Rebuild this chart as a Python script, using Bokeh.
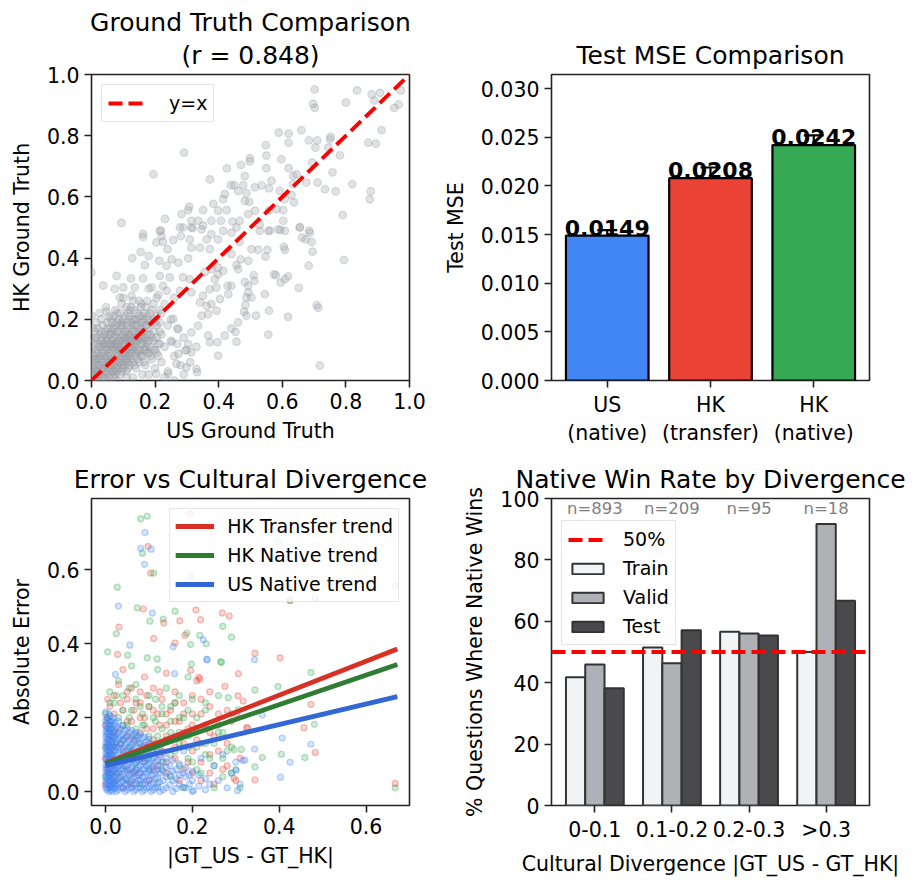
from bokeh.plotting import figure
from bokeh.layouts import gridplot
from bokeh.models import ColumnDataSource, FixedTicker, PrintfTickFormatter, Whisker, TeeHead, Title
from bokeh.core.properties import value
from bokeh.embed import file_html
from bokeh.resources import INLINE

FONT = "DejaVu Sans"

# --- panel 1: ground truth, US vs HK ---
gt_pairs = [
    (0.702, 0.951), (0.835, 0.948), (0.881, 0.935), (0.907, 0.940), (0.889, 0.915), (0.973, 0.948),
    (0.952, 0.891), (0.966, 0.902), (0.697, 0.904), (0.702, 0.891), (0.800, 0.908), (0.912, 0.818),
    (0.870, 0.777), (0.894, 0.774), (0.660, 0.818), (0.589, 0.810), (0.620, 0.807), (0.620, 0.777),
    (0.684, 0.785), (0.710, 0.785), (0.752, 0.796), (0.750, 0.788), (0.704, 0.761), (0.745, 0.761),
    (0.548, 0.769), (0.550, 0.735), (0.781, 0.736), (0.291, 0.745), (0.498, 0.726), (0.498, 0.716),
    (0.470, 0.705), (0.597, 0.723), (0.550, 0.694), (0.620, 0.694), (0.694, 0.712), (0.758, 0.680),
    (0.645, 0.674), (0.634, 0.669), (0.426, 0.693), (0.482, 0.668), (0.195, 0.674), (0.372, 0.657),
    (0.566, 0.653), (0.676, 0.647), (0.711, 0.647), (0.438, 0.638), (0.449, 0.638), (0.477, 0.638),
    (0.514, 0.631), (0.535, 0.638), (0.558, 0.628), (0.634, 0.642), (0.734, 0.625), (0.768, 0.618),
    (0.820, 0.642), (0.878, 0.618), (0.875, 0.592), (0.461, 0.620), (0.487, 0.612), (0.419, 0.609),
    (0.414, 0.593), (0.482, 0.587), (0.592, 0.620), (0.629, 0.606), (0.608, 0.593), (0.637, 0.582),
    (0.496, 0.584), (0.383, 0.577), (0.307, 0.568), (0.304, 0.557), (0.351, 0.557), (0.398, 0.555),
    (0.425, 0.557), (0.582, 0.560), (0.603, 0.557), (0.558, 0.555), (0.790, 0.541), (0.514, 0.555),
    (0.493, 0.544), (0.094, 0.515), (0.231, 0.528), (0.283, 0.544), (0.314, 0.522), (0.335, 0.522),
    (0.351, 0.506), (0.377, 0.522), (0.407, 0.522), (0.443, 0.519), (0.466, 0.522), (0.529, 0.509),
    (0.561, 0.490), (0.603, 0.522), (0.594, 0.492), (0.655, 0.501), (0.684, 0.490), (0.218, 0.490),
    (0.278, 0.500), (0.318, 0.498), (0.162, 0.479),
    (0.162, 0.469), (0.215, 0.489), (0.220, 0.472), (0.204, 0.451), (0.225, 0.453), (0.239, 0.429),
    (0.257, 0.459), (0.281, 0.472), (0.309, 0.461), (0.288, 0.500), (0.314, 0.500), (0.346, 0.494),
    (0.362, 0.461), (0.377, 0.478), (0.398, 0.461), (0.414, 0.489), (0.314, 0.434), (0.341, 0.434),
    (0.372, 0.429), (0.155, 0.420), (0.180, 0.407), (0.128, 0.400), (0.213, 0.391), (0.252, 0.396),
    (0.273, 0.385), (0.304, 0.399), (0.236, 0.375), (0.168, 0.377), (0.440, 0.483), (0.456, 0.500),
    (0.466, 0.453), (0.440, 0.413), (0.529, 0.489), (0.556, 0.489), (0.587, 0.494), (0.608, 0.489),
    (0.655, 0.500), (0.687, 0.483), (0.662, 0.467), (0.673, 0.461), (0.692, 0.453), (0.605, 0.437),
    (0.608, 0.427), (0.695, 0.421), (0.503, 0.429), (0.524, 0.427), (0.553, 0.427), (0.547, 0.405),
    (0.493, 0.391), (0.469, 0.396), (0.794, 0.394), (0.683, 0.375), (0.456, 0.377), (0.461, 0.364),
    (0.398, 0.369), (0.414, 0.358), (0.510, 0.344), (0.512, 0.326), (0.482, 0.322), (0.574, 0.347),
    (0.580, 0.344), (0.618, 0.340), (0.608, 0.331), (0.595, 0.320), (0.652, 0.303), (0.428, 0.309),
    (0.440, 0.309), (0.430, 0.282), (0.493, 0.309), (0.493, 0.288), (0.503, 0.271), (0.487, 0.271),
    (0.484, 0.247), (0.480, 0.225), (0.487, 0.212), (0.517, 0.212), (0.545, 0.282), (0.558, 0.228),
    (0.708, 0.246), (0.713, 0.238), (0.618, 0.208), (0.556, 0.150), (0.718, 0.049), (0.461, 0.190),
    (0.440, 0.170), (0.453, 0.159), (0.456, 0.127), (0.419, 0.147), (0.393, 0.228), (0.367, 0.217),
    (0.346, 0.212), (0.362, 0.244), (0.377, 0.250), (0.404, 0.266), (0.341, 0.255), (0.351, 0.277),
    (0.314, 0.288), (0.372, 0.298), (0.393, 0.304), (0.388, 0.331), (0.398, 0.347), (0.377, 0.364),
    (0.356, 0.353), (0.335, 0.179), (0.314, 0.157), (0.367, 0.147), (0.372, 0.125), (0.396, 0.125),
    (0.398, 0.081), (0.304, 0.119), (0.294, 0.098), (0.314, 0.092), (0.273, 0.087), (0.267, 0.054),
    (0.299, 0.043), (0.330, 0.038), (0.332, 0.027), (0.241, 0.022), (0.204, 0.022), (0.252, 0.125),
    (0.273, 0.168), (0.257, 0.201), (0.037, 0.310), (0.047, 0.225), (0.000, 0.353), (0.000, 0.212),
    (0.079, 0.342), (0.073, 0.299), (0.100, 0.304), (0.124, 0.334), (0.162, 0.334), (0.215, 0.342),
    (0.246, 0.337), (0.136, 0.304), (0.189, 0.304), (0.225, 0.309), (0.236, 0.293), (0.288, 0.337),
    (0.309, 0.331), (0.278, 0.293), (0.089, 0.271), (0.126, 0.277), (0.157, 0.250),
    (0.01, 0.00), (0.02, 0.01), (0.03, 0.02), (0.01, 0.03), (0.04, 0.01), (0.05, 0.03), (0.02, 0.05),
    (0.06, 0.02), (0.07, 0.05), (0.03, 0.07), (0.08, 0.03), (0.05, 0.08), (0.09, 0.06), (0.06, 0.10),
    (0.10, 0.04), (0.11, 0.08), (0.07, 0.12), (0.12, 0.10), (0.08, 0.14), (0.13, 0.06), (0.04, 0.11),
    (0.09, 0.10), (0.10, 0.13), (0.14, 0.12), (0.11, 0.16), (0.15, 0.09), (0.12, 0.14), (0.13, 0.18),
    (0.16, 0.14), (0.14, 0.20), (0.17, 0.11), (0.18, 0.17), (0.15, 0.16), (0.16, 0.21), (0.19, 0.14),
    (0.20, 0.19), (0.17, 0.24), (0.21, 0.12), (0.22, 0.22), (0.19, 0.23), (0.05, 0.14), (0.06, 0.17),
    (0.08, 0.19), (0.09, 0.22), (0.10, 0.18), (0.11, 0.24), (0.12, 0.21), (0.13, 0.26), (0.07, 0.21),
    (0.03, 0.13), (0.02, 0.09), (0.01, 0.07), (0.00, 0.05), (0.00, 0.02), (0.04, 0.04), (0.06, 0.06),
    (0.08, 0.08), (0.10, 0.10), (0.12, 0.12), (0.14, 0.14), (0.07, 0.01), (0.09, 0.02), (0.11, 0.03),
    (0.12, 0.05), (0.14, 0.04), (0.15, 0.06), (0.16, 0.08), (0.17, 0.05), (0.18, 0.09), (0.19, 0.07),
    (0.20, 0.10), (0.21, 0.08), (0.22, 0.15), (0.23, 0.11), (0.24, 0.18), (0.25, 0.13), (0.18, 0.02),
    (0.20, 0.04), (0.22, 0.06), (0.24, 0.03), (0.26, 0.08), (0.27, 0.12), (0.28, 0.05), (0.25, 0.20),
    (0.23, 0.25), (0.26, 0.27), (0.21, 0.28), (0.18, 0.30), (0.15, 0.26), (0.10, 0.27), (0.05, 0.19),
    (0.03, 0.16), (0.13, 0.01), (0.16, 0.02), (0.02, 0.00), (0.05, 0.00), (0.08, 0.00), (0.11, 0.01),
    (0.29, 0.14), (0.30, 0.10), (0.27, 0.17), (0.31, 0.06), (0.33, 0.11), (0.29, 0.02), (0.26, 0.00),
    (0.23, 0.01),
]
# the dense corner of panel 1, one column of HK values per US value
gt_dense = {
    0.005: [0.01, 0.04, 0.08, 0.12, 0.17], 0.015: [0.00, 0.03, 0.06, 0.10, 0.14, 0.19],
    0.025: [0.02, 0.05, 0.08, 0.11, 0.15, 0.22], 0.035: [0.01, 0.04, 0.06, 0.09, 0.12, 0.18],
    0.045: [0.02, 0.05, 0.07, 0.10, 0.13, 0.16, 0.24], 0.055: [0.01, 0.04, 0.06, 0.09, 0.12, 0.15, 0.21],
    0.065: [0.03, 0.05, 0.07, 0.11, 0.13, 0.16, 0.19], 0.075: [0.02, 0.04, 0.07, 0.10, 0.12, 0.15, 0.18, 0.23],
    0.085: [0.04, 0.06, 0.09, 0.11, 0.13, 0.16, 0.20], 0.095: [0.03, 0.05, 0.08, 0.11, 0.14, 0.17, 0.19, 0.25],
    0.105: [0.05, 0.07, 0.09, 0.12, 0.14, 0.16, 0.21], 0.115: [0.04, 0.06, 0.09, 0.13, 0.15, 0.18, 0.22],
    0.125: [0.07, 0.09, 0.11, 0.13, 0.17, 0.19, 0.24], 0.135: [0.05, 0.08, 0.11, 0.14, 0.16, 0.20, 0.23],
    0.145: [0.07, 0.10, 0.13, 0.15, 0.18, 0.22], 0.155: [0.08, 0.12, 0.14, 0.17, 0.19, 0.24],
    0.165: [0.06, 0.10, 0.13, 0.16, 0.20, 0.22], 0.175: [0.09, 0.12, 0.15, 0.18, 0.21, 0.26],
    0.185: [0.08, 0.11, 0.15, 0.19, 0.22], 0.195: [0.10, 0.13, 0.16, 0.20, 0.25],
    0.205: [0.09, 0.14, 0.18, 0.21, 0.27], 0.215: [0.12, 0.16, 0.19, 0.23],
    0.0: [0.03, 0.07, 0.10, 0.14], 0.01: [0.02, 0.05, 0.09, 0.13, 0.16],
    0.02: [0.03, 0.07, 0.12, 0.17], 0.03: [0.04, 0.08, 0.11, 0.14, 0.20],
    0.04: [0.03, 0.08, 0.12, 0.15], 0.05: [0.06, 0.10, 0.13, 0.17],
    0.06: [0.05, 0.08, 0.12, 0.15, 0.20], 0.07: [0.03, 0.07, 0.11, 0.14, 0.17],
    0.08: [0.05, 0.09, 0.12, 0.16, 0.22], 0.09: [0.07, 0.10, 0.13, 0.18],
    0.10: [0.06, 0.09, 0.12, 0.15, 0.20], 0.11: [0.07, 0.10, 0.14, 0.19],
    0.12: [0.08, 0.11, 0.15, 0.23], 0.13: [0.10, 0.12, 0.16, 0.20],
    0.14: [0.09, 0.13, 0.18], 0.15: [0.10, 0.14, 0.21], 0.16: [0.12, 0.16, 0.19],
    0.17: [0.10, 0.14, 0.18], 0.18: [0.13, 0.20],
}
gt_corr = 0.848

# --- panel 2: test MSE ---
models = ["US\n(native)", "HK\n(transfer)", "HK\n(native)"]
mse = [0.0149, 0.0208, 0.0242]
mse_err = [0.00055, 0.0011, 0.0010]
mse_colors = ["#4285f4", "#ea4335", "#34a853"]

# --- panel 3: absolute error vs divergence ---
transfer_pairs = [
    (0.194, 0.753), (0.098, 0.663), (0.104, 0.591), (0.087, 0.494), (0.031, 0.445), (0.028, 0.371),
    (0.134, 0.456), (0.171, 0.462), (0.208, 0.491), (0.219, 0.465), (0.269, 0.483), (0.285, 0.475),
    (0.111, 0.414), (0.160, 0.402), (0.183, 0.423), (0.196, 0.328), (0.217, 0.304), (0.306, 0.319),
    (0.344, 0.374), (0.402, 0.362), (0.473, 0.236), (0.457, 0.173), (0.483, 0.106), (0.344, 0.032),
    (0.667, 0.022), (0.327, 0.172), (0.305, 0.259), (0.275, 0.285), (0.325, 0.173), (0.302, 0.211),
    (0.317, 0.245), (0.215, 0.309), (0.296, 0.036), (0.425, 0.517),
    (0.00, 0.02), (0.00, 0.09), (0.00, 0.18), (0.01, 0.05), (0.01, 0.14), (0.01, 0.23), (0.02, 0.03),
    (0.02, 0.12), (0.02, 0.26), (0.03, 0.08), (0.03, 0.17), (0.03, 0.29), (0.04, 0.01), (0.04, 0.11),
    (0.04, 0.22), (0.05, 0.06), (0.05, 0.15), (0.05, 0.25), (0.06, 0.02), (0.06, 0.19), (0.06, 0.28),
    (0.07, 0.10), (0.07, 0.24), (0.08, 0.05), (0.08, 0.16), (0.08, 0.27), (0.09, 0.08), (0.09, 0.20),
    (0.10, 0.03), (0.10, 0.13), (0.10, 0.23), (0.11, 0.17), (0.11, 0.28), (0.12, 0.07), (0.12, 0.21),
    (0.13, 0.11), (0.13, 0.25), (0.14, 0.05), (0.14, 0.18), (0.15, 0.14), (0.15, 0.22), (0.16, 0.09),
    (0.16, 0.27), (0.17, 0.03), (0.17, 0.19), (0.18, 0.13), (0.18, 0.24), (0.19, 0.08), (0.19, 0.17),
    (0.20, 0.21), (0.20, 0.05), (0.21, 0.14), (0.22, 0.25), (0.22, 0.03), (0.23, 0.18), (0.24, 0.10),
    (0.25, 0.15), (0.25, 0.02), (0.26, 0.21), (0.27, 0.06), (0.28, 0.13), (0.29, 0.19), (0.30, 0.03),
    (0.31, 0.09), (0.24, 0.27), (0.21, 0.30), (0.14, 0.32), (0.09, 0.31), (0.04, 0.33),
]
transfer_dense = {
    0.005: [0.06, 0.12, 0.20, 0.25], 0.02: [0.07, 0.16, 0.21], 0.035: [0.04, 0.13, 0.24],
    0.05: [0.10, 0.19, 0.27], 0.065: [0.05, 0.14, 0.22], 0.08: [0.09, 0.20, 0.24],
    0.095: [0.12, 0.17, 0.26], 0.11: [0.06, 0.14, 0.22], 0.125: [0.10, 0.18, 0.27],
    0.14: [0.08, 0.15, 0.21], 0.16: [0.12, 0.19, 0.24], 0.18: [0.06, 0.16, 0.21],
    0.20: [0.11, 0.18, 0.26], 0.22: [0.08, 0.13, 0.21], 0.24: [0.05, 0.16, 0.23],
    0.26: [0.11, 0.18], 0.28: [0.07, 0.22],
}
native_hk_pairs = [
    (0.081, 0.738), (0.096, 0.745), (0.085, 0.645), (0.027, 0.553), (0.111, 0.591), (0.073, 0.497),
    (0.102, 0.461), (0.133, 0.467), (0.160, 0.488), (0.187, 0.429), (0.196, 0.398), (0.217, 0.423),
    (0.270, 0.447), (0.290, 0.418), (0.232, 0.400), (0.025, 0.427), (0.005, 0.378), (0.051, 0.369),
    (0.096, 0.362), (0.119, 0.359), (0.265, 0.351), (0.473, 0.322), (0.344, 0.275), (0.397, 0.284),
    (0.481, 0.182), (0.459, 0.092), (0.361, 0.092), (0.344, 0.067), (0.313, 0.114), (0.296, 0.114),
    (0.405, 0.101), (0.667, 0.010), (0.425, 0.517), (0.267, 0.350), (0.306, 0.222), (0.283, 0.254),
    (0.198, 0.345),
    (0.00, 0.04), (0.00, 0.12), (0.00, 0.21), (0.01, 0.08), (0.01, 0.17), (0.01, 0.27), (0.02, 0.02),
    (0.02, 0.15), (0.02, 0.24), (0.03, 0.05), (0.03, 0.20), (0.03, 0.30), (0.04, 0.09), (0.04, 0.14),
    (0.04, 0.26), (0.05, 0.03), (0.05, 0.18), (0.06, 0.11), (0.06, 0.22), (0.07, 0.06), (0.07, 0.17),
    (0.07, 0.29), (0.08, 0.02), (0.08, 0.13), (0.08, 0.23), (0.09, 0.09), (0.09, 0.18), (0.10, 0.06),
    (0.10, 0.26), (0.11, 0.11), (0.11, 0.20), (0.12, 0.02), (0.12, 0.15), (0.13, 0.08), (0.13, 0.23),
    (0.14, 0.14), (0.14, 0.28), (0.15, 0.04), (0.15, 0.19), (0.16, 0.11), (0.16, 0.24), (0.17, 0.07),
    (0.17, 0.16), (0.18, 0.20), (0.18, 0.01), (0.19, 0.12), (0.20, 0.08), (0.20, 0.25), (0.21, 0.17),
    (0.22, 0.05), (0.23, 0.13), (0.23, 0.22), (0.24, 0.09), (0.25, 0.01), (0.26, 0.16), (0.27, 0.04),
    (0.28, 0.11), (0.29, 0.21), (0.30, 0.06), (0.31, 0.01), (0.26, 0.26), (0.19, 0.31), (0.12, 0.33),
    (0.06, 0.34),
]
native_hk_dense = {
    0.01: [0.10, 0.19, 0.24], 0.025: [0.05, 0.13, 0.26], 0.04: [0.07, 0.18, 0.22],
    0.055: [0.12, 0.20, 0.28], 0.07: [0.08, 0.15, 0.25], 0.085: [0.11, 0.18, 0.21],
    0.10: [0.09, 0.15, 0.23], 0.115: [0.13, 0.19, 0.25], 0.13: [0.06, 0.17, 0.21],
    0.15: [0.10, 0.16, 0.23], 0.17: [0.13, 0.20, 0.26], 0.19: [0.09, 0.15, 0.22],
    0.21: [0.06, 0.12, 0.20], 0.23: [0.10, 0.17, 0.24], 0.25: [0.07, 0.13],
    0.27: [0.09, 0.16], 0.29: [0.05, 0.12],
}
native_us_pairs = [
    (0.091, 0.701), (0.081, 0.658), (0.105, 0.656), (0.090, 0.615), (0.196, 0.584), (0.030, 0.502),
    (0.108, 0.483), (0.056, 0.396), (0.156, 0.392), (0.159, 0.319), (0.225, 0.411), (0.234, 0.357),
    (0.023, 0.317), (0.397, 0.676), (0.483, 0.524), (0.667, 0.557), (0.343, 0.357), (0.361, 0.207),
    (0.407, 0.145), (0.425, 0.079), (0.403, 0.039), (0.473, 0.128), (0.343, 0.115), (0.321, 0.085),
    (0.304, 0.003), (0.202, 0.003), (0.316, 0.084), (0.301, 0.057), (0.233, 0.358),
    (0.16, 0.15), (0.18, 0.11), (0.22, 0.09), (0.25, 0.07), (0.27, 0.10), (0.29, 0.05), (0.30, 0.08),
    (0.31, 0.02), (0.26, 0.03), (0.24, 0.02), (0.28, 0.01),
]
native_us_dense = {
    0.003: [0.005, 0.02, 0.035, 0.05, 0.065, 0.08, 0.095, 0.11, 0.125, 0.14, 0.155, 0.17, 0.185, 0.20],
    0.008: [0.0, 0.015, 0.03, 0.045, 0.06, 0.075, 0.09, 0.105, 0.12, 0.135, 0.15, 0.165, 0.18, 0.21],
    0.013: [0.005, 0.02, 0.035, 0.05, 0.07, 0.085, 0.10, 0.115, 0.13, 0.15, 0.17, 0.19],
    0.018: [0.01, 0.025, 0.04, 0.055, 0.075, 0.09, 0.11, 0.125, 0.145, 0.16, 0.18, 0.20],
    0.025: [0.0, 0.015, 0.03, 0.05, 0.065, 0.08, 0.10, 0.12, 0.135, 0.155, 0.175],
    0.035: [0.01, 0.025, 0.04, 0.06, 0.075, 0.09, 0.115, 0.13, 0.15, 0.17],
    0.045: [0.0, 0.02, 0.035, 0.055, 0.07, 0.085, 0.105, 0.125, 0.145, 0.165],
    0.055: [0.01, 0.025, 0.045, 0.06, 0.08, 0.10, 0.12, 0.14, 0.16],
    0.065: [0.0, 0.02, 0.04, 0.055, 0.075, 0.095, 0.115, 0.135, 0.155],
    0.075: [0.01, 0.03, 0.045, 0.065, 0.085, 0.105, 0.13, 0.15],
    0.085: [0.0, 0.02, 0.04, 0.06, 0.08, 0.10, 0.12, 0.145],
    0.095: [0.01, 0.03, 0.05, 0.07, 0.09, 0.115, 0.135],
    0.105: [0.0, 0.02, 0.045, 0.065, 0.085, 0.11, 0.13],
    0.115: [0.01, 0.035, 0.055, 0.08, 0.10, 0.125],
    0.125: [0.0, 0.025, 0.05, 0.07, 0.095, 0.12],
    0.14: [0.01, 0.04, 0.065, 0.09], 0.155: [0.0, 0.03, 0.055, 0.085],
    0.17: [0.02, 0.045, 0.075], 0.185: [0.01, 0.04, 0.065], 0.20: [0.0, 0.03, 0.055],
    0.215: [0.015, 0.045], 0.23: [0.005, 0.035],
    0.0005: [0.012, 0.028, 0.042, 0.058, 0.072, 0.088, 0.102, 0.118, 0.132, 0.148, 0.162, 0.178, 0.192, 0.215],
    0.0055: [0.008, 0.022, 0.038, 0.052, 0.068, 0.082, 0.098, 0.112, 0.128, 0.142, 0.158, 0.172, 0.195],
    0.0105: [0.012, 0.028, 0.042, 0.06, 0.078, 0.092, 0.108, 0.122, 0.14, 0.16, 0.18, 0.205],
    0.0155: [0.0, 0.018, 0.032, 0.048, 0.065, 0.082, 0.10, 0.118, 0.135, 0.152, 0.17, 0.19],
    0.022: [0.008, 0.022, 0.04, 0.058, 0.072, 0.09, 0.11, 0.128, 0.145, 0.165, 0.185],
    0.03: [0.005, 0.02, 0.035, 0.055, 0.07, 0.085, 0.105, 0.122, 0.142, 0.16, 0.19],
    0.04: [0.01, 0.028, 0.045, 0.062, 0.08, 0.098, 0.118, 0.138, 0.155, 0.178],
    0.05: [0.005, 0.018, 0.035, 0.052, 0.07, 0.09, 0.11, 0.13, 0.15, 0.17],
    0.06: [0.01, 0.03, 0.048, 0.065, 0.085, 0.105, 0.125, 0.145, 0.165],
    0.07: [0.005, 0.022, 0.038, 0.058, 0.078, 0.098, 0.12, 0.14, 0.16],
    0.08: [0.01, 0.03, 0.05, 0.07, 0.09, 0.11, 0.132, 0.155],
    0.09: [0.005, 0.022, 0.04, 0.06, 0.08, 0.102, 0.125, 0.148],
    0.10: [0.012, 0.032, 0.055, 0.075, 0.098, 0.12, 0.142],
    0.11: [0.005, 0.025, 0.045, 0.068, 0.09, 0.112],
    0.12: [0.012, 0.038, 0.06, 0.085, 0.108],
    0.133: [0.005, 0.03, 0.055, 0.08, 0.105], 0.148: [0.018, 0.045, 0.07],
    0.163: [0.008, 0.035, 0.06], 0.178: [0.012, 0.05], 0.193: [0.02, 0.045],
}
# fitted trend lines, end points
trend_x = [0.0, 0.672]
transfer_trend = [0.077, 0.386]
native_hk_trend = [0.075, 0.344]
native_us_trend = [0.070, 0.257]

# --- panel 4: native win rate by divergence bin ---
bins = ["0-0.1", "0.1-0.2", "0.2-0.3", ">0.3"]
n_counts = [893, 209, 95, 18]
win_train = [41.8, 51.5, 56.6, 50.0]
win_valid = [45.9, 46.3, 56.0, 91.7]
win_test = [38.2, 57.1, 55.4, 66.7]
chance_level = 50


def unpack(pairs, dense):
    xs = [a for a, b in pairs] + [a for a, ys in dense.items() for b in ys]
    ys = [b for a, b in pairs] + [b for a, ys in dense.items() for b in ys]
    return xs, ys


def style_title(t, standoff=10):
    t.text_font = FONT
    t.text_font_size = "25px"
    t.text_font_style = "normal"
    t.text_color = "black"
    t.align = "center"
    t.standoff = standoff


def style(p, xlabel, ylabel):
    style_title(p.title)
    p.xgrid.visible = False
    p.ygrid.visible = False
    p.outline_line_color = "#222222"
    p.outline_line_width = 1.6
    p.outline_line_alpha = 1
    for ax in (p.xaxis, p.yaxis):
        ax.axis_line_color = None
        ax.minor_tick_line_color = None
        ax.major_tick_in = 0
        ax.major_tick_out = 7
        ax.major_tick_line_width = 1.6
        ax.major_tick_line_color = "#222222"
        ax.major_label_text_font = FONT
        ax.major_label_text_font_size = "20.5px"
        ax.major_label_text_color = "black"
        ax.major_label_standoff = 5
        ax.axis_label_text_font = FONT
        ax.axis_label_text_font_size = "20.5px"
        ax.axis_label_text_font_style = "normal"
        ax.axis_label_text_color = "black"
    p.xaxis.axis_label_standoff = 7
    p.yaxis.axis_label_standoff = 10
    p.xaxis.axis_label = xlabel
    p.yaxis.axis_label = ylabel


def style_legend(lg, glyph_h=20, standoff=16, pad=6):
    lg.label_text_font = FONT
    lg.label_text_font_size = "19px"
    lg.label_text_color = "black"
    lg.background_fill_alpha = 0.8
    lg.border_line_color = "#cccccc"
    lg.border_line_width = 1.5
    lg.glyph_width = 39
    lg.glyph_height = glyph_h
    lg.label_height = 24
    lg.label_standoff = standoff
    lg.spacing = 5
    lg.padding = pad
    lg.margin = 10


common = dict(output_backend="svg", toolbar_location=None)

# Ground truth comparison
p1 = figure(width=439, height=452, x_range=(0, 1), y_range=(0, 1),
            title="Ground Truth Comparison",
            min_border_left=91, min_border_right=30, min_border_top=74, min_border_bottom=72, **common)
gx, gy = unpack(gt_pairs, gt_dense)
p1.scatter(gx, gy, size=7.6, color="#9aa0a6", fill_alpha=0.3, line_alpha=0.35, line_width=1.2)
diag = [p1.x_range.start, p1.x_range.end]
p1.line(diag, diag, line_color="red", line_width=3.9, line_dash="14 6", legend_label="y=x")
style(p1, "US Ground Truth", "HK Ground Truth")
p1.title.standoff = -6
sub_title = Title(text="(r = %.3f)" % gt_corr)
style_title(sub_title, standoff=10)
p1.add_layout(sub_title, "above")
p1.xaxis.ticker = FixedTicker(ticks=[0, 0.2, 0.4, 0.6, 0.8, 1.0])
p1.yaxis.ticker = FixedTicker(ticks=[0, 0.2, 0.4, 0.6, 0.8, 1.0])
p1.xaxis.formatter = PrintfTickFormatter(format="%.1f")
p1.yaxis.formatter = PrintfTickFormatter(format="%.1f")
p1.legend.location = "top_left"
style_legend(p1.legend, standoff=22, pad=6)

# Test MSE comparison
idx = list(range(len(models)))
p2 = figure(width=473, height=452, x_range=(-0.54, 2.54), y_range=(0, max(mse) * 1.3),
            title="Test MSE Comparison",
            min_border_left=112, min_border_right=43, min_border_top=74, min_border_bottom=72, **common)
p2.vbar(x=idx, top=mse, width=0.8, fill_color=mse_colors, line_color="black", line_width=2.2)
err_src = ColumnDataSource(dict(x=idx, upper=[m + e for m, e in zip(mse, mse_err)],
                                lower=[m - e for m, e in zip(mse, mse_err)]))
p2.add_layout(Whisker(base="x", upper="upper", lower="lower", source=err_src, dimension="height",
                      line_color="black", line_width=2.2,
                      upper_head=TeeHead(size=20, line_width=2.2, line_color="black"),
                      lower_head=TeeHead(size=20, line_width=2.2, line_color="black")))
p2.text(x=idx, y=mse, text=[f"{m:.4f}" for m in mse], text_align="center", text_baseline="bottom",
        text_font=value(FONT), text_font_style="bold", text_font_size=value("22px"), text_color="black")
style(p2, "", "Test MSE")
p2.xaxis.ticker = FixedTicker(ticks=idx)
p2.xaxis.major_label_overrides = {i: m for i, m in zip(idx, models)}
p2.yaxis.ticker = FixedTicker(ticks=[0, 0.005, 0.010, 0.015, 0.020, 0.025, 0.030])
p2.yaxis.formatter = PrintfTickFormatter(format="%.3f")

# Error vs cultural divergence
p3 = figure(width=439, height=426, x_range=(-0.0323, 0.700), y_range=(-0.0377, 0.793),
            title="Error vs Cultural Divergence",
            min_border_left=91, min_border_right=30, min_border_top=46, min_border_bottom=71, **common)
for pairs, dense, col in ((transfer_pairs, transfer_dense, "#ea4335"),
                          (native_hk_pairs, native_hk_dense, "#34a853"),
                          (native_us_pairs, native_us_dense, "#4285f4")):
    xs, ys = unpack(pairs, dense)
    p3.scatter(xs, ys, size=6, color=col, fill_alpha=0.22, line_alpha=0.35, line_width=1.2)
p3.line(trend_x, transfer_trend, line_color="#d93025", line_width=4.8, legend_label="HK Transfer trend")
p3.line(trend_x, native_hk_trend, line_color="#2e7d32", line_width=4.8, legend_label="HK Native trend")
p3.line(trend_x, native_us_trend, line_color="#3367d6", line_width=4.8, legend_label="US Native trend")
style(p3, "|GT_US - GT_HK|", "Absolute Error")
p3.xaxis.ticker = FixedTicker(ticks=[0, 0.2, 0.4, 0.6])
p3.yaxis.ticker = FixedTicker(ticks=[0, 0.2, 0.4, 0.6])
p3.xaxis.formatter = PrintfTickFormatter(format="%.1f")
p3.yaxis.formatter = PrintfTickFormatter(format="%.1f")
p3.legend.location = "top_right"
style_legend(p3.legend, standoff=13, pad=5)

# Native win rate by divergence
bar_w = 0.25
gidx = list(range(len(bins)))
p4 = figure(width=473, height=426, x_range=(-0.5625, 3.5625), y_range=(0, 100),
            title="Native Win Rate by Divergence",
            min_border_left=112, min_border_right=43, min_border_top=46, min_border_bottom=71, **common)
span_x = [p4.x_range.start, p4.x_range.end]
chance = p4.line(span_x, [chance_level] * 2, line_color="red", line_width=3.9, line_dash="14 6",
                 legend_label="50%")
for off, vals, col, lab in ((-bar_w, win_train, "#f1f3f4", "Train"),
                            (0, win_valid, "#aeb1b5", "Valid"),
                            (bar_w, win_test, "#4a4a4d", "Test")):
    p4.vbar(x=[g + off for g in gidx], top=vals, width=bar_w, fill_color=col,
            line_color="#333333", line_width=2, legend_label=lab)
p4.renderers.remove(chance)
p4.renderers.append(chance)
p4.text(x=gidx, y=[96.6] * len(gidx), text=[f"n={n}" for n in n_counts], text_align="center",
        text_baseline="middle", text_font=value(FONT), text_font_size=value("16.5px"), text_color="#808080")
style(p4, "Cultural Divergence |GT_US - GT_HK|", "% Questions Where Native Wins")
p4.xaxis.ticker = FixedTicker(ticks=gidx)
p4.xaxis.major_label_overrides = {i: b for i, b in zip(gidx, bins)}
p4.yaxis.ticker = FixedTicker(ticks=[0, 20, 40, 60, 80, 100])
style_legend(p4.legend, glyph_h=13, standoff=16, pad=6)
p4.legend.location = (10, 160)

grid = gridplot([[p1, p2], [p3, p4]], toolbar_location=None)
open("out.html", "w").write(file_html(grid, INLINE))
